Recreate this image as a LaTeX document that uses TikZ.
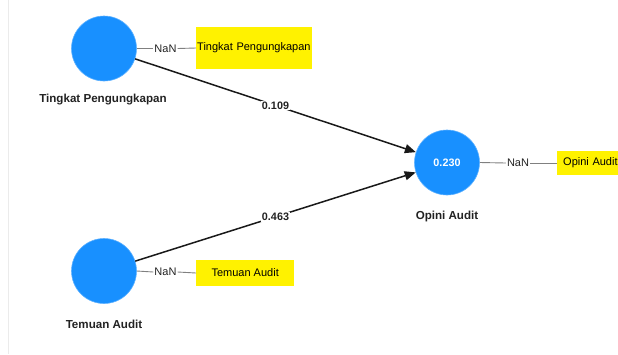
\documentclass[tikz,border=0pt]{standalone}
\usepackage{fontspec}
\setmainfont{Liberation Sans}
\usetikzlibrary{arrows.meta}
\definecolor{lvblue}{RGB}{24,144,255}
\definecolor{txt}{RGB}{34,34,34}
\definecolor{nanline}{RGB}{128,128,128}
\begin{document}
\begin{tikzpicture}[x=1pt,y=-1pt,
  lv/.style={circle,fill=lvblue,draw=lvblue!70!white,line width=0.6pt,minimum size=65pt,inner sep=0pt,text=white,font=\fontsize{10.8}{12}\selectfont\bfseries},
  lvname/.style={text=txt,font=\fontsize{11.6}{13}\selectfont\bfseries,inner sep=0pt},
  nan/.style={text=txt,font=\fontsize{11}{12}\selectfont,inner sep=1pt},
  ind/.style={fill=yellow,text=black,font=\fontsize{11}{12}\selectfont,inner sep=0pt,anchor=west},
  nanedge/.style={draw=nanline,line width=0.9pt},
  path/.style={draw=black!90,line width=1.5pt,-{Triangle[length=11pt,width=9pt]}},
  plabel/.style={fill=white,text=txt,font=\fontsize{10.8}{12}\selectfont\bfseries,inner sep=1pt}]
\useasboundingbox (0,0) rectangle (618,354);
\draw[draw=black!8,line width=1pt] (8.5,0) -- (8.5,354);
% latent variables
\node[lv] (tp) at (104,48.5) {};
\node[lv] (ta) at (104,271) {};
\node[lv] (oa) at (447,162.5) {0.230};
\node[lvname] (tpn) at (103,100) {Tingkat Pengungkapan};
\node[lvname] (tan) at (104,324) {Temuan Audit};
\node[lvname] (oan) at (447,216) {Opini Audit};
% indicators
\node[ind,minimum width=116pt,minimum height=42pt,text width=114pt,align=left,inner xsep=1pt] (tpi) at (196,48) {Tingkat Pengungkapan};
\node[ind,minimum width=98pt,minimum height=26pt,align=center] (tai) at (196,273) {Temuan Audit};
\node[ind,minimum width=64pt,minimum height=24pt,text width=58pt,align=left,inner xsep=6pt] (oai) at (557,163) {Opini Audit};
\node[nan] (tpnan) at (165.5,48.5) {NaN};
\node[nan] (tanan) at (165.5,272) {NaN};
\node[nan] (oanan) at (518,163) {NaN};
\draw[nanedge] (tp.east) -- (tpnan.west);
\draw[nanedge] (tpnan.east) -- (tpi.west);
\draw[nanedge] (ta.east) -- (tanan.west);
\draw[nanedge] (tanan.east) -- (tai.west);
\draw[nanedge] (oa.east) -- (oanan.west);
\draw[nanedge] (oanan.east) -- (oai.west);
% paths
\draw[path] (tp) -- node[plabel,pos=0.5] {0.109} (oa);
\draw[path] (ta) -- node[plabel,pos=0.5] {0.463} (oa);
\end{tikzpicture}
\end{document}
